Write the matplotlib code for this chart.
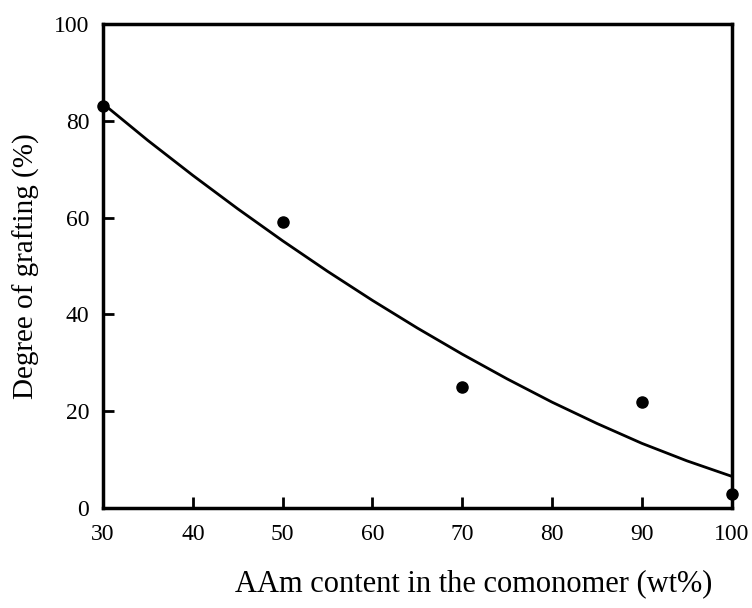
import matplotlib.pyplot as plt

plt.rcParams['font.family'] = ['Liberation Serif', 'DejaVu Serif']

# measured points
aam_content = [30, 50, 70, 90, 100]
grafting = [83, 59, 25, 22, 3]

# fitted curve
curve_x = [30, 35, 40, 45, 50, 55, 60, 65, 70, 75, 80, 85, 90, 95, 100]
curve_y = [83.5, 75.9, 68.7, 61.8, 55.2, 48.9, 42.9, 37.2, 31.8, 26.7, 21.9, 17.5, 13.4, 9.8, 6.6]

xticks = [30, 40, 50, 60, 70, 80, 90, 100]
yticks = [0, 20, 40, 60, 80, 100]

fig = plt.figure(figsize=(7.52, 6.08), dpi=100)
ax = fig.add_axes([0.137, 0.164, 0.836, 0.797])

ax.plot(curve_x, curve_y, color='black', lw=2, clip_on=False)
ax.plot(aam_content, grafting, 'o', color='black', ms=8, clip_on=False, zorder=5)

ax.set_xlim(30, 100)
ax.set_ylim(0, 100)
ax.set_xticks(xticks)
ax.set_yticks(yticks)
ax.tick_params(direction='in', length=8, width=2, labelsize=17, top=False, right=False)
ax.tick_params(axis='x', pad=11)
ax.tick_params(axis='y', pad=10)
for s in ax.spines.values():
    s.set_linewidth(2.5)

ax.set_xlabel('AAm content in the comonomer (wt%)', fontsize=22, labelpad=22)
ax.xaxis.set_label_coords(0.59, -0.125)
ax.set_ylabel('Degree of grafting (%)', fontsize=21, labelpad=10)

fig.savefig('out.png', dpi=100)
